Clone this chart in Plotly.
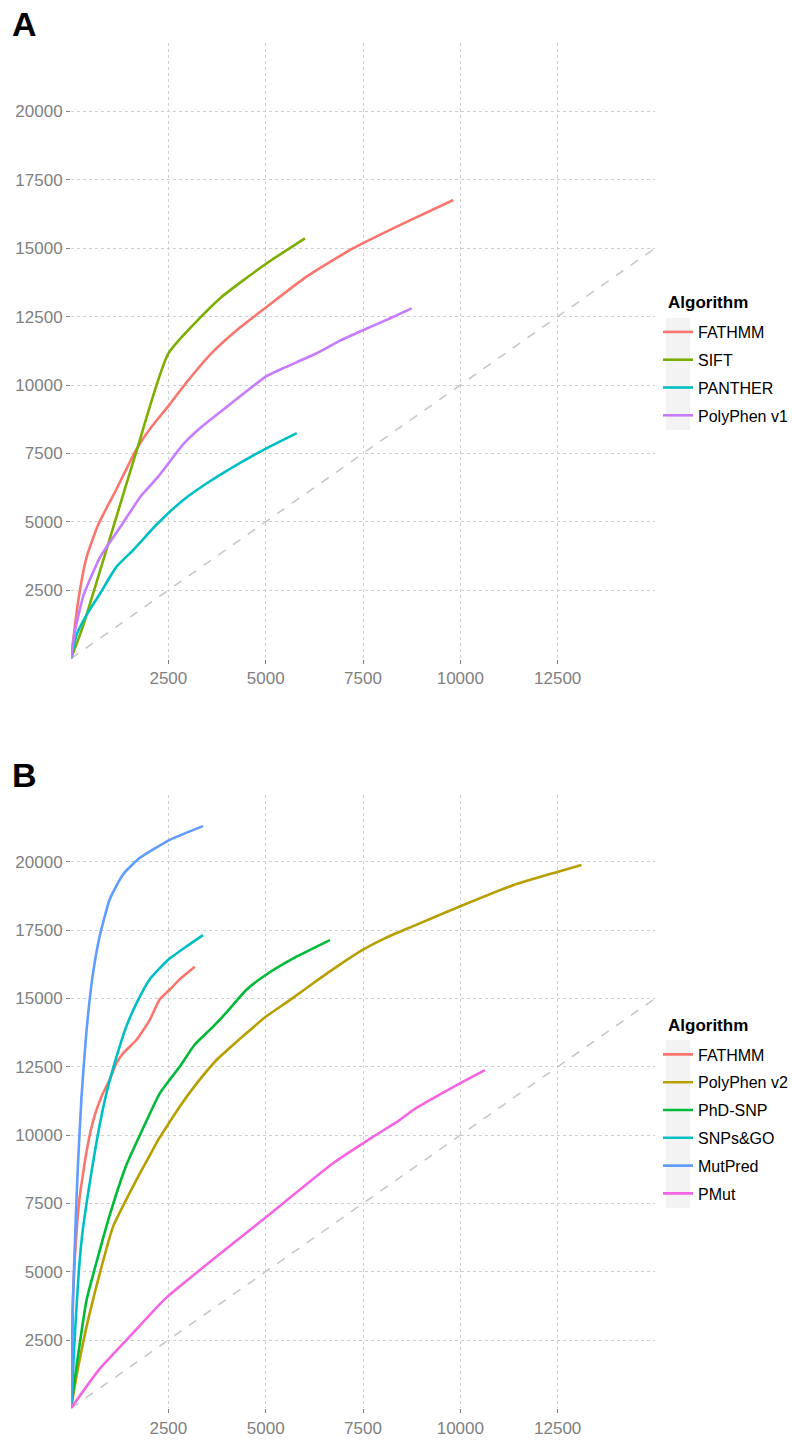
import plotly.graph_objects as go

# ---------------- Panel A data ----------------
a_fathmm_x = [0, 190, 400, 700, 1170, 1500, 1700, 2030, 2540, 2970, 3600, 4340, 5030, 6050, 7250, 8540, 9820]
a_fathmm_y = [0, 2150, 3700, 4900, 6200, 7150, 7700, 8400, 9300, 10100, 11150, 12100, 12860, 13960, 15000, 15910, 16760]
a_sift_x = [0, 300, 1090, 1690, 2500, 3830, 5030, 6010]
a_sift_y = [0, 1150, 4820, 7620, 11150, 13170, 14450, 15360]
a_panther_x = [0, 150, 400, 750, 1170, 1600, 2200, 2885, 3490, 4170, 5030, 5800]
a_panther_y = [0, 900, 1600, 2390, 3360, 3970, 4900, 5800, 6410, 7010, 7690, 8240]
a_pp1_x = [0, 100, 320, 750, 1300, 1800, 2240, 2885, 3310, 4000, 5030, 5460, 6310, 6910, 7510, 8200, 8750]
a_pp1_y = [0, 1000, 2300, 3720, 4880, 5950, 6650, 7840, 8420, 9200, 10330, 10620, 11160, 11620, 12010, 12440, 12800]

# ---------------- Panel B data ----------------
b_fathmm_x = [0, 50, 140, 220, 310, 400, 520, 650, 820, 990, 1170, 1340, 1680, 2020, 2280, 2540, 2790, 3180]
b_fathmm_y = [0, 3960, 6400, 7700, 8600, 9400, 10250, 10900, 11530, 12020, 12640, 13000, 13480, 14210, 14970, 15330, 15700, 16160]
b_pp2_x = [0, 140, 400, 740, 1080, 1680, 2020, 2250, 2520, 2790, 3260, 3740, 4160, 4500, 5000, 5620, 6220, 6820, 7490, 8100, 8790, 10000, 11360, 12510, 13110]
b_pp2_y = [0, 1160, 2990, 4940, 6650, 8360, 9250, 9850, 10450, 11040, 11950, 12750, 13300, 13725, 14330, 14940, 15560, 16160, 16780, 17230, 17650, 18380, 19150, 19640, 19890]
b_phd_x = [0, 140, 400, 740, 1000, 1420, 1850, 2280, 2790, 3170, 3650, 4000, 4500, 5000, 5790, 6650]
b_phd_y = [0, 1520, 3960, 5790, 7100, 8900, 10250, 11530, 12500, 13300, 13970, 14500, 15310, 15860, 16530, 17140]
b_snpsgo_x = [0, 100, 200, 300, 400, 520, 650, 740, 910, 1170, 1420, 1680, 2020, 2490, 2960, 3390]
b_snpsgo_y = [0, 2700, 5000, 6500, 7500, 8600, 9700, 10400, 11530, 12870, 13970, 14820, 15700, 16410, 16900, 17320]
b_mutpred_x = [0, 50, 140, 180, 270, 400, 565, 740, 1000, 1340, 1770, 2540, 3390]
b_mutpred_y = [0, 3960, 7620, 8970, 11400, 13850, 15920, 17300, 18650, 19550, 20150, 20810, 21310]
b_pmut_x = [0, 740, 1590, 2450, 5020, 6730, 7760, 8440, 8790, 10000, 10630]
b_pmut_y = [0, 1450, 2750, 4050, 7010, 8970, 9940, 10550, 10920, 11900, 12380]

diag_x = [0, 15000]
diag_y = [0, 15000]

x_ticks = [2500, 5000, 7500, 10000, 12500]
y_ticks = [2500, 5000, 7500, 10000, 12500, 15000, 17500, 20000]

a_names = ["FATHMM", "SIFT", "PANTHER", "PolyPhen v1"]
a_colors = ["#F8766D", "#7CAE00", "#00BFC4", "#C77CFF"]
a_series = [(a_fathmm_x, a_fathmm_y), (a_sift_x, a_sift_y), (a_panther_x, a_panther_y), (a_pp1_x, a_pp1_y)]

b_names = ["FATHMM", "PolyPhen v2", "PhD-SNP", "SNPs&GO", "MutPred", "PMut"]
b_colors = ["#F8766D", "#B79F00", "#00BA38", "#00BFC4", "#619CFF", "#F564E3"]
b_series = [(b_fathmm_x, b_fathmm_y), (b_pp2_x, b_pp2_y), (b_phd_x, b_phd_y),
            (b_snpsgo_x, b_snpsgo_y), (b_mutpred_x, b_mutpred_y), (b_pmut_x, b_pmut_y)]
legend_title = "Algorithm"

W, H = 793, 1441
FONT = "Liberation Sans, Arial, sans-serif"

fig = go.Figure()

for xa, ya in (("x", "y"), ("x2", "y2")):
    fig.add_trace(go.Scatter(x=diag_x, y=diag_y, mode="lines", xaxis=xa, yaxis=ya,
                             line=dict(color="#c8c8c8", width=1.6, dash="dash"),
                             showlegend=False, hoverinfo="skip"))

for i, (name, col, (xs, ys)) in enumerate(zip(a_names, a_colors, a_series)):
    fig.add_trace(go.Scatter(x=xs, y=ys, mode="lines", name=name, xaxis="x", yaxis="y",
                             line=dict(color=col, width=2.6, shape="spline", smoothing=0.5),
                             legend="legend", legendgroup="a%d" % i))
for i, (name, col, (xs, ys)) in enumerate(zip(b_names, b_colors, b_series)):
    fig.add_trace(go.Scatter(x=xs, y=ys, mode="lines", name=name, xaxis="x2", yaxis="y2",
                             line=dict(color=col, width=2.6, shape="spline", smoothing=0.5),
                             legend="legend2", legendgroup="b%d" % i))

x0, x1 = 71 / W, 655 / W
yA = [1 - 658.6 / H, 1 - 43 / H]
yB = [1 - 1408.3 / H, 1 - 795 / H]

axis_common = dict(
    showgrid=True, gridcolor="#cfcfcf", griddash="dot", gridwidth=1,
    zeroline=False, showline=False, automargin=False,
    ticks="outside", ticklen=4, tickcolor="#7f7f7f", tickwidth=1,
    tickfont=dict(family=FONT, size=17, color="#7f7f7f"),
)
xt = dict(tickvals=x_ticks, ticktext=[str(v) for v in x_ticks])
yt = dict(tickvals=y_ticks, ticktext=[str(v) for v in y_ticks])

legend_common = dict(
    x=658 / W, xanchor="left", yanchor="top",
    font=dict(family=FONT, size=16, color="black"),
    bgcolor="rgba(0,0,0,0)", tracegroupgap=4, itemwidth=30,
)


def key_box(top, n):
    return dict(type="rect", xref="paper", yref="paper", layer="below",
                x0=666 / W, x1=690 / W, y0=1 - (top + 28 * n) / H, y1=1 - top / H,
                fillcolor="#f3f3f3", line=dict(width=0))


fig.update_layout(
    width=W, height=H, autosize=False,
    margin=dict(l=0, r=0, t=0, b=0),
    paper_bgcolor="white", plot_bgcolor="white",
    xaxis=dict(domain=[x0, x1], range=[0, 15000], anchor="y", **xt, **axis_common),
    yaxis=dict(domain=yA, range=[0, 22500], anchor="x", **yt, **axis_common),
    xaxis2=dict(domain=[x0, x1], range=[0, 15000], anchor="y2", **xt, **axis_common),
    yaxis2=dict(domain=yB, range=[0, 22450], anchor="x2", **yt, **axis_common),
    legend=dict(y=1 - 315 / H, **legend_common),
    legend2=dict(y=1 - 1037.5 / H, **legend_common),
    shapes=[key_box(318, 4), key_box(1040, 6)],
    annotations=[
        dict(text="<b>A</b>", x=10 / W, y=1 - 24 / H, xref="paper", yref="paper",
             xanchor="left", yanchor="middle", showarrow=False,
             font=dict(family=FONT, size=34, color="black")),
        dict(text="<b>B</b>", x=10 / W, y=1 - 775 / H, xref="paper", yref="paper",
             xanchor="left", yanchor="middle", showarrow=False,
             font=dict(family=FONT, size=34, color="black")),
        dict(text="<b>%s</b>" % legend_title, x=666 / W, y=1 - 303 / H, xref="paper", yref="paper",
             xanchor="left", yanchor="middle", showarrow=False,
             font=dict(family=FONT, size=17, color="black")),
        dict(text="<b>%s</b>" % legend_title, x=666 / W, y=1 - 1025 / H, xref="paper", yref="paper",
             xanchor="left", yanchor="middle", showarrow=False,
             font=dict(family=FONT, size=17, color="black")),
    ],
)

fig.write_html("out.html", config={"displayModeBar": False},
               post_script="document.body.style.margin='0';document.body.style.padding='0';")
